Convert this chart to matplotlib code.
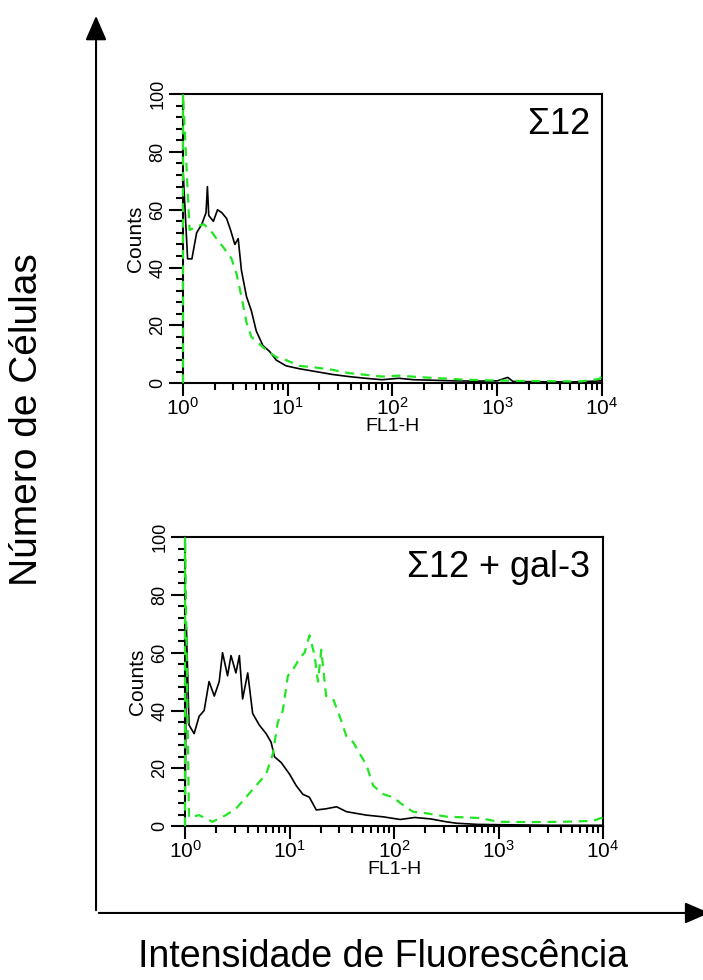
import numpy as np
import matplotlib
matplotlib.use("Agg")
import matplotlib.pyplot as plt
from matplotlib.patches import FancyArrowPatch
from matplotlib.ticker import MultipleLocator, LogLocator, NullFormatter

plt.rcParams['font.family'] = ['Liberation Sans', 'DejaVu Sans']
plt.rcParams['mathtext.default'] = 'regular'

# FL1-H positions given as log10 decades, counts
# top panel: sigma12 alone
top_black_dec = [0.0, 0.044, 0.085, 0.13, 0.18, 0.22, 0.233, 0.246, 0.29, 0.33, 0.37, 0.416,
                 0.454, 0.495, 0.527, 0.558, 0.606, 0.653, 0.70, 0.763, 0.826, 0.89, 0.984,
                 1.11, 1.27, 1.43, 1.58, 1.74, 1.90, 2.06, 2.2, 2.4, 2.6, 2.8, 3.0, 3.1,
                 3.15, 3.4, 3.7, 4.0]
top_black_cnt = [74, 43, 43, 52, 55, 59, 68, 58, 56, 60, 59, 57,
                 53, 48, 50, 39, 30, 25, 18, 13, 11, 8, 6,
                 5, 4, 3, 2.3, 1.7, 1.2, 1.7, 1.2, 1.0, 0.8, 0.7, 0.8, 2.0,
                 0.6, 0.5, 0.4, 0.8]
top_green_dec = [0.0, 0.0, 0.063, 0.117, 0.196, 0.26, 0.32, 0.385, 0.464, 0.51, 0.558, 0.606,
                 0.653, 0.716, 0.795, 0.89, 0.984, 1.11, 1.27, 1.43, 1.58, 1.74, 1.90,
                 2.06, 2.3, 2.5, 2.7, 2.9, 3.2, 3.5, 3.8, 3.98, 4.0]
top_green_cnt = [0, 100, 53, 54, 55, 53, 50, 47, 43, 38, 30, 21,
                 16, 14, 11.5, 9, 8, 6, 5.4, 4.6, 3.5, 2.9, 2.3,
                 2.6, 2.0, 1.6, 1.2, 1.0, 0.8, 0.7, 0.6, 1.5, 3]

# bottom panel: sigma12 + gal-3
bot_black_dec = [0.0, 0.013, 0.038, 0.087, 0.135, 0.183, 0.23, 0.28, 0.327, 0.359, 0.407,
                 0.44, 0.487, 0.52, 0.551, 0.6, 0.647, 0.71, 0.776, 0.824, 0.856, 0.92,
                 1.0, 1.064, 1.128, 1.19, 1.256, 1.35, 1.45, 1.545, 1.64, 1.737, 1.9,
                 2.06, 2.2, 2.35, 2.5, 2.6, 2.8, 3.0, 3.5, 4.0]
bot_black_cnt = [0, 69, 35, 32, 38, 40, 50, 45, 50, 60, 52,
                 59, 53, 59, 44, 53, 39, 35, 32, 29, 24, 22,
                 18, 14, 11, 10, 5.6, 6, 6.7, 5, 4.4, 3.8, 3.2,
                 2.3, 3.0, 2.5, 1.5, 1.0, 0.6, 0.5, 0.3, 0.3]
bot_green_dec = [0.0, 0.0, 0.038, 0.135, 0.263, 0.39, 0.487, 0.583, 0.68, 0.776, 0.84,
                 0.888, 0.936, 0.984, 1.03, 1.096, 1.144, 1.192, 1.24, 1.272, 1.304,
                 1.35, 1.417, 1.48, 1.545, 1.61, 1.673, 1.737, 1.8, 1.9, 1.99, 2.06,
                 2.18, 2.3, 2.5, 2.82, 3.0, 3.3, 3.6, 3.9, 4.0]
bot_green_cnt = [0, 100, 3, 3.8, 1.5, 3.8, 6, 10, 14, 18, 25,
                 36, 40, 52, 54, 58, 60, 66, 59, 50, 61,
                 45, 44, 38, 31, 29, 25, 21, 14, 11, 10, 8,
                 5, 4.5, 3.3, 2.8, 1.5, 1.4, 1.5, 1.8, 3]

panels = [
    ([0.2603, 0.609, 0.5960, 0.295], top_black_dec, top_black_cnt,
     top_green_dec, top_green_cnt, r'$\Sigma$12'),
    ([0.2632, 0.157, 0.5946, 0.295], bot_black_dec, bot_black_cnt,
     bot_green_dec, bot_green_cnt, r'$\Sigma$12 + gal-3'),
]

fig = plt.figure(figsize=(7.03, 9.8), dpi=100)

for rect, bd, bc, gd, gc, tag in panels:
    ax = fig.add_axes(rect)
    ax.plot(10 ** np.array(bd), bc, color='black', lw=1.2, zorder=3, clip_on=False)
    ax.plot(10 ** np.array(gd), gc, color='#22e622', lw=1.6, ls=(0, (4, 3)),
            zorder=4, clip_on=False)
    ax.set_xscale('log')
    ax.set_xlim(1, 1e4)
    ax.set_ylim(0, 100)
    for s in ax.spines.values():
        s.set_linewidth(1.5)
    ax.yaxis.set_major_locator(MultipleLocator(20))
    ax.yaxis.set_minor_locator(MultipleLocator(4))
    ax.xaxis.set_major_locator(LogLocator(base=10, numticks=10))
    ax.xaxis.set_minor_locator(LogLocator(base=10, subs=np.arange(2, 10), numticks=10))
    ax.xaxis.set_minor_formatter(NullFormatter())
    ax.tick_params(axis='y', which='major', length=10, width=1.5, labelsize=13,
                   labelrotation=90, pad=2)
    ax.tick_params(axis='y', which='minor', length=5, width=1.5)
    ax.tick_params(axis='x', which='major', length=9, width=1.5, labelsize=15, pad=1)
    ax.tick_params(axis='x', which='minor', length=5, width=1.5)
    for lab in ax.get_yticklabels():
        lab.set_va('center')
    ax.set_ylabel('Counts', fontsize=15, labelpad=3)
    ax.set_xlabel('FL1-H', fontsize=14, labelpad=-1)
    ax.text(0.97, 0.862, tag, transform=ax.transAxes, ha='right', va='baseline',
            fontsize=26)

# big arrows for the shared axes
a1 = FancyArrowPatch((0.1366, 0.0684), (0.1366, 0.9867), transform=fig.transFigure,
                     arrowstyle='-|>,head_length=1.5,head_width=0.65', mutation_scale=10,
                     lw=1.5, color='black')
a2 = FancyArrowPatch((0.1366, 0.0684), (1.013, 0.0684), transform=fig.transFigure,
                     arrowstyle='-|>,head_length=1.5,head_width=0.65', mutation_scale=10,
                     lw=1.5, color='black')
fig.patches.extend([a1, a2])

fig.text(0.038, 0.572, 'Número de Células', rotation=90, ha='center', va='center',
         fontsize=28)
fig.text(0.545, 0.013, 'Intensidade de Fluorescência', ha='center', va='baseline',
         fontsize=27)

fig.savefig('out.png', dpi=100)
